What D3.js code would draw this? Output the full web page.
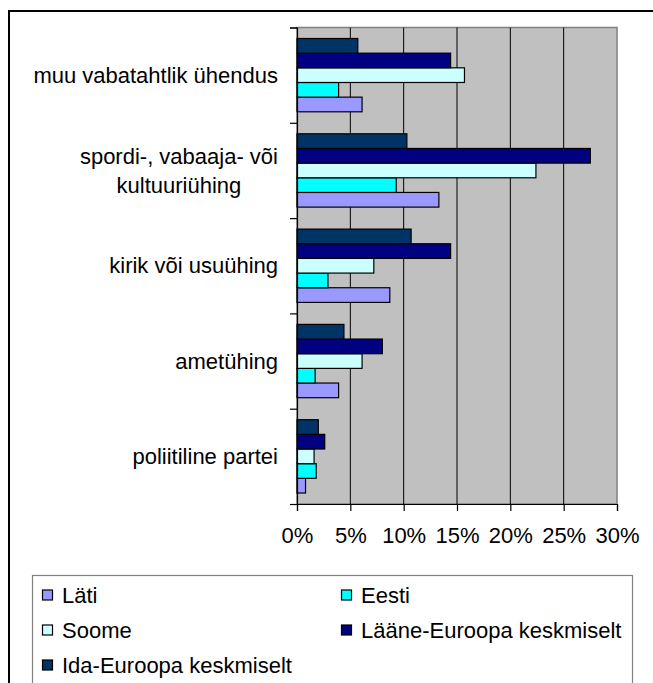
<!DOCTYPE html>
<html>
<head>
<meta charset="utf-8">
<script src="https://cdn.jsdelivr.net/npm/d3@7"></script>
<style>
  html, body { margin: 0; padding: 0; background: #fff; }
  svg { display: block; }
  text { font-family: "Liberation Sans", Arial, sans-serif; fill: #000; }
</style>
</head>
<body>
<svg id="chart" width="653" height="683"></svg>
<script>
// ---- data ----
const categories = [
  "muu vabatahtlik ühendus",
  "spordi-, vabaaja- või\nkultuuriühing",
  "kirik või usuühing",
  "ametühing",
  "poliitiline partei"
];
const seriesNames = ["Läti", "Eesti", "Soome", "Lääne-Euroopa keskmiselt", "Ida-Euroopa keskmiselt"];
const latiValues   = [6.1, 13.3, 8.7, 3.9, 0.8];
const eestiValues  = [3.9, 9.3, 2.9, 1.7, 1.8];
const soomeValues  = [15.7, 22.4, 7.2, 6.1, 1.6];
const laaneValues  = [14.4, 27.5, 14.4, 8.0, 2.6];
const idaValues    = [5.7, 10.3, 10.7, 4.4, 2.0];
const xTicks = [0, 5, 10, 15, 20, 25, 30];
const seriesColors = ["#9999FF", "#00FFFF", "#CCFFFF", "#000080", "#003366"];

const seriesValues = [latiValues, eestiValues, soomeValues, laaneValues, idaValues];

// ---- layout ----
const svg = d3.select("#chart");
const plot = { left: 297, right: 617, top: 27.5, bottom: 504 };
const fontSize = 22;

// outer chart border
svg.append("rect")
  .attr("x", 9).attr("y", 11).attr("width", 700).attr("height", 720)
  .attr("fill", "#fff").attr("stroke", "#000").attr("stroke-width", 2);

const x = d3.scaleLinear().domain([0, 30]).range([plot.left, plot.right]);
const y0 = d3.scaleBand().domain(categories).range([plot.top, plot.bottom])
  .paddingInner(1.5 / 6.5).paddingOuter(0.75 / 6.5);
// within a group, last series drawn on top
const y1 = d3.scaleBand().domain(seriesNames.slice().reverse()).range([0, y0.bandwidth()]);

// plot background
svg.append("rect")
  .attr("x", plot.left).attr("y", plot.top)
  .attr("width", plot.right - plot.left).attr("height", plot.bottom - plot.top)
  .attr("fill", "#C0C0C0").attr("stroke", "#808080").attr("stroke-width", 1.5);

// gridlines
svg.append("g").selectAll("line")
  .data(xTicks.filter(d => d > 0 && d < 30))
  .join("line")
  .attr("x1", d => x(d)).attr("x2", d => x(d))
  .attr("y1", plot.top).attr("y2", plot.bottom)
  .attr("stroke", "#000").attr("stroke-width", 1);

// bars
const groups = svg.append("g").selectAll("g")
  .data(categories)
  .join("g")
  .attr("transform", c => `translate(0,${y0(c)})`);

groups.selectAll("rect")
  .data((c, ci) => seriesNames.map((s, si) => ({ s, si, v: seriesValues[si][ci] })))
  .join("rect")
  .attr("x", x(0))
  .attr("y", d => y1(d.s))
  .attr("width", d => x(d.v) - x(0))
  .attr("height", y1.bandwidth())
  .attr("fill", d => seriesColors[d.si])
  .attr("stroke", "#000").attr("stroke-width", 1.2);

// x axis
const xAxis = d3.axisBottom(x).tickValues(xTicks).tickSize(7).tickFormat(d => d + "%");
const gx = svg.append("g").attr("transform", `translate(0,${plot.bottom})`).call(xAxis);
gx.select(".domain").attr("stroke", "#000").attr("stroke-width", 1.2);
gx.selectAll(".tick line").attr("stroke", "#000").attr("stroke-width", 1.2);
gx.selectAll(".tick text")
  .attr("y", 39).attr("dy", 0)
  .style("font-size", fontSize + "px")
  .style("font-family", '"Liberation Sans", Arial, sans-serif')
  .attr("fill", "#000");

// y axis (ticks at band boundaries)
const yb = d3.scaleLinear().domain([0, categories.length]).range([plot.top, plot.bottom]);
const yAxis = d3.axisLeft(yb).tickValues(d3.range(categories.length + 1)).tickSize(7).tickFormat("");
const gy = svg.append("g").attr("transform", `translate(${plot.left},0)`).call(yAxis);
gy.select(".domain").attr("stroke", "#000").attr("stroke-width", 1.2);
gy.selectAll(".tick line").attr("stroke", "#000").attr("stroke-width", 1.2);

// category labels
const lineH = 29;
const labelBlocks = svg.append("g").selectAll("text")
  .data(categories)
  .join("text")
  .style("font-size", fontSize + "px")
  .attr("text-anchor", "middle")
  .each(function (c) {
    const lines = c.split("\n");
    const sel = d3.select(this);
    const cy = y0(c) + y0.bandwidth() / 2;
    lines.forEach((ln, i) => {
      sel.append("tspan")
        .attr("y", cy + (i - (lines.length - 1) / 2) * lineH)
        .attr("dy", "0.35em")
        .text(ln);
    });
  });
// right-align each block to x=278 while centering lines inside block
labelBlocks.each(function () {
  const sel = d3.select(this);
  const tsp = sel.selectAll("tspan");
  let maxW = 0;
  tsp.each(function () { maxW = Math.max(maxW, this.getComputedTextLength()); });
  const cx = 278 - maxW / 2;
  tsp.attr("x", cx);
});

// legend
const legend = svg.append("g");
legend.append("rect")
  .attr("x", 32.5).attr("y", 575.5).attr("width", 600).attr("height", 200)
  .attr("fill", "#fff").attr("stroke", "#808080").attr("stroke-width", 1.2);

const legendPos = [
  { x: 42, y: 595 }, { x: 341, y: 595 },
  { x: 42, y: 630 }, { x: 341, y: 630 },
  { x: 42, y: 665 }
];
const items = legend.selectAll("g.item")
  .data(seriesNames)
  .join("g")
  .attr("class", "item")
  .attr("transform", (d, i) => `translate(${legendPos[i].x},${legendPos[i].y})`);
items.append("rect")
  .attr("x", 0.5).attr("y", -5).attr("width", 10).attr("height", 10)
  .attr("fill", (d, i) => seriesColors[i])
  .attr("stroke", "#000").attr("stroke-width", 1.2);
items.append("text")
  .attr("x", 20).attr("y", 0).attr("dy", "0.35em")
  .style("font-size", fontSize + "px")
  .text(d => d);
</script>
</body>
</html>
